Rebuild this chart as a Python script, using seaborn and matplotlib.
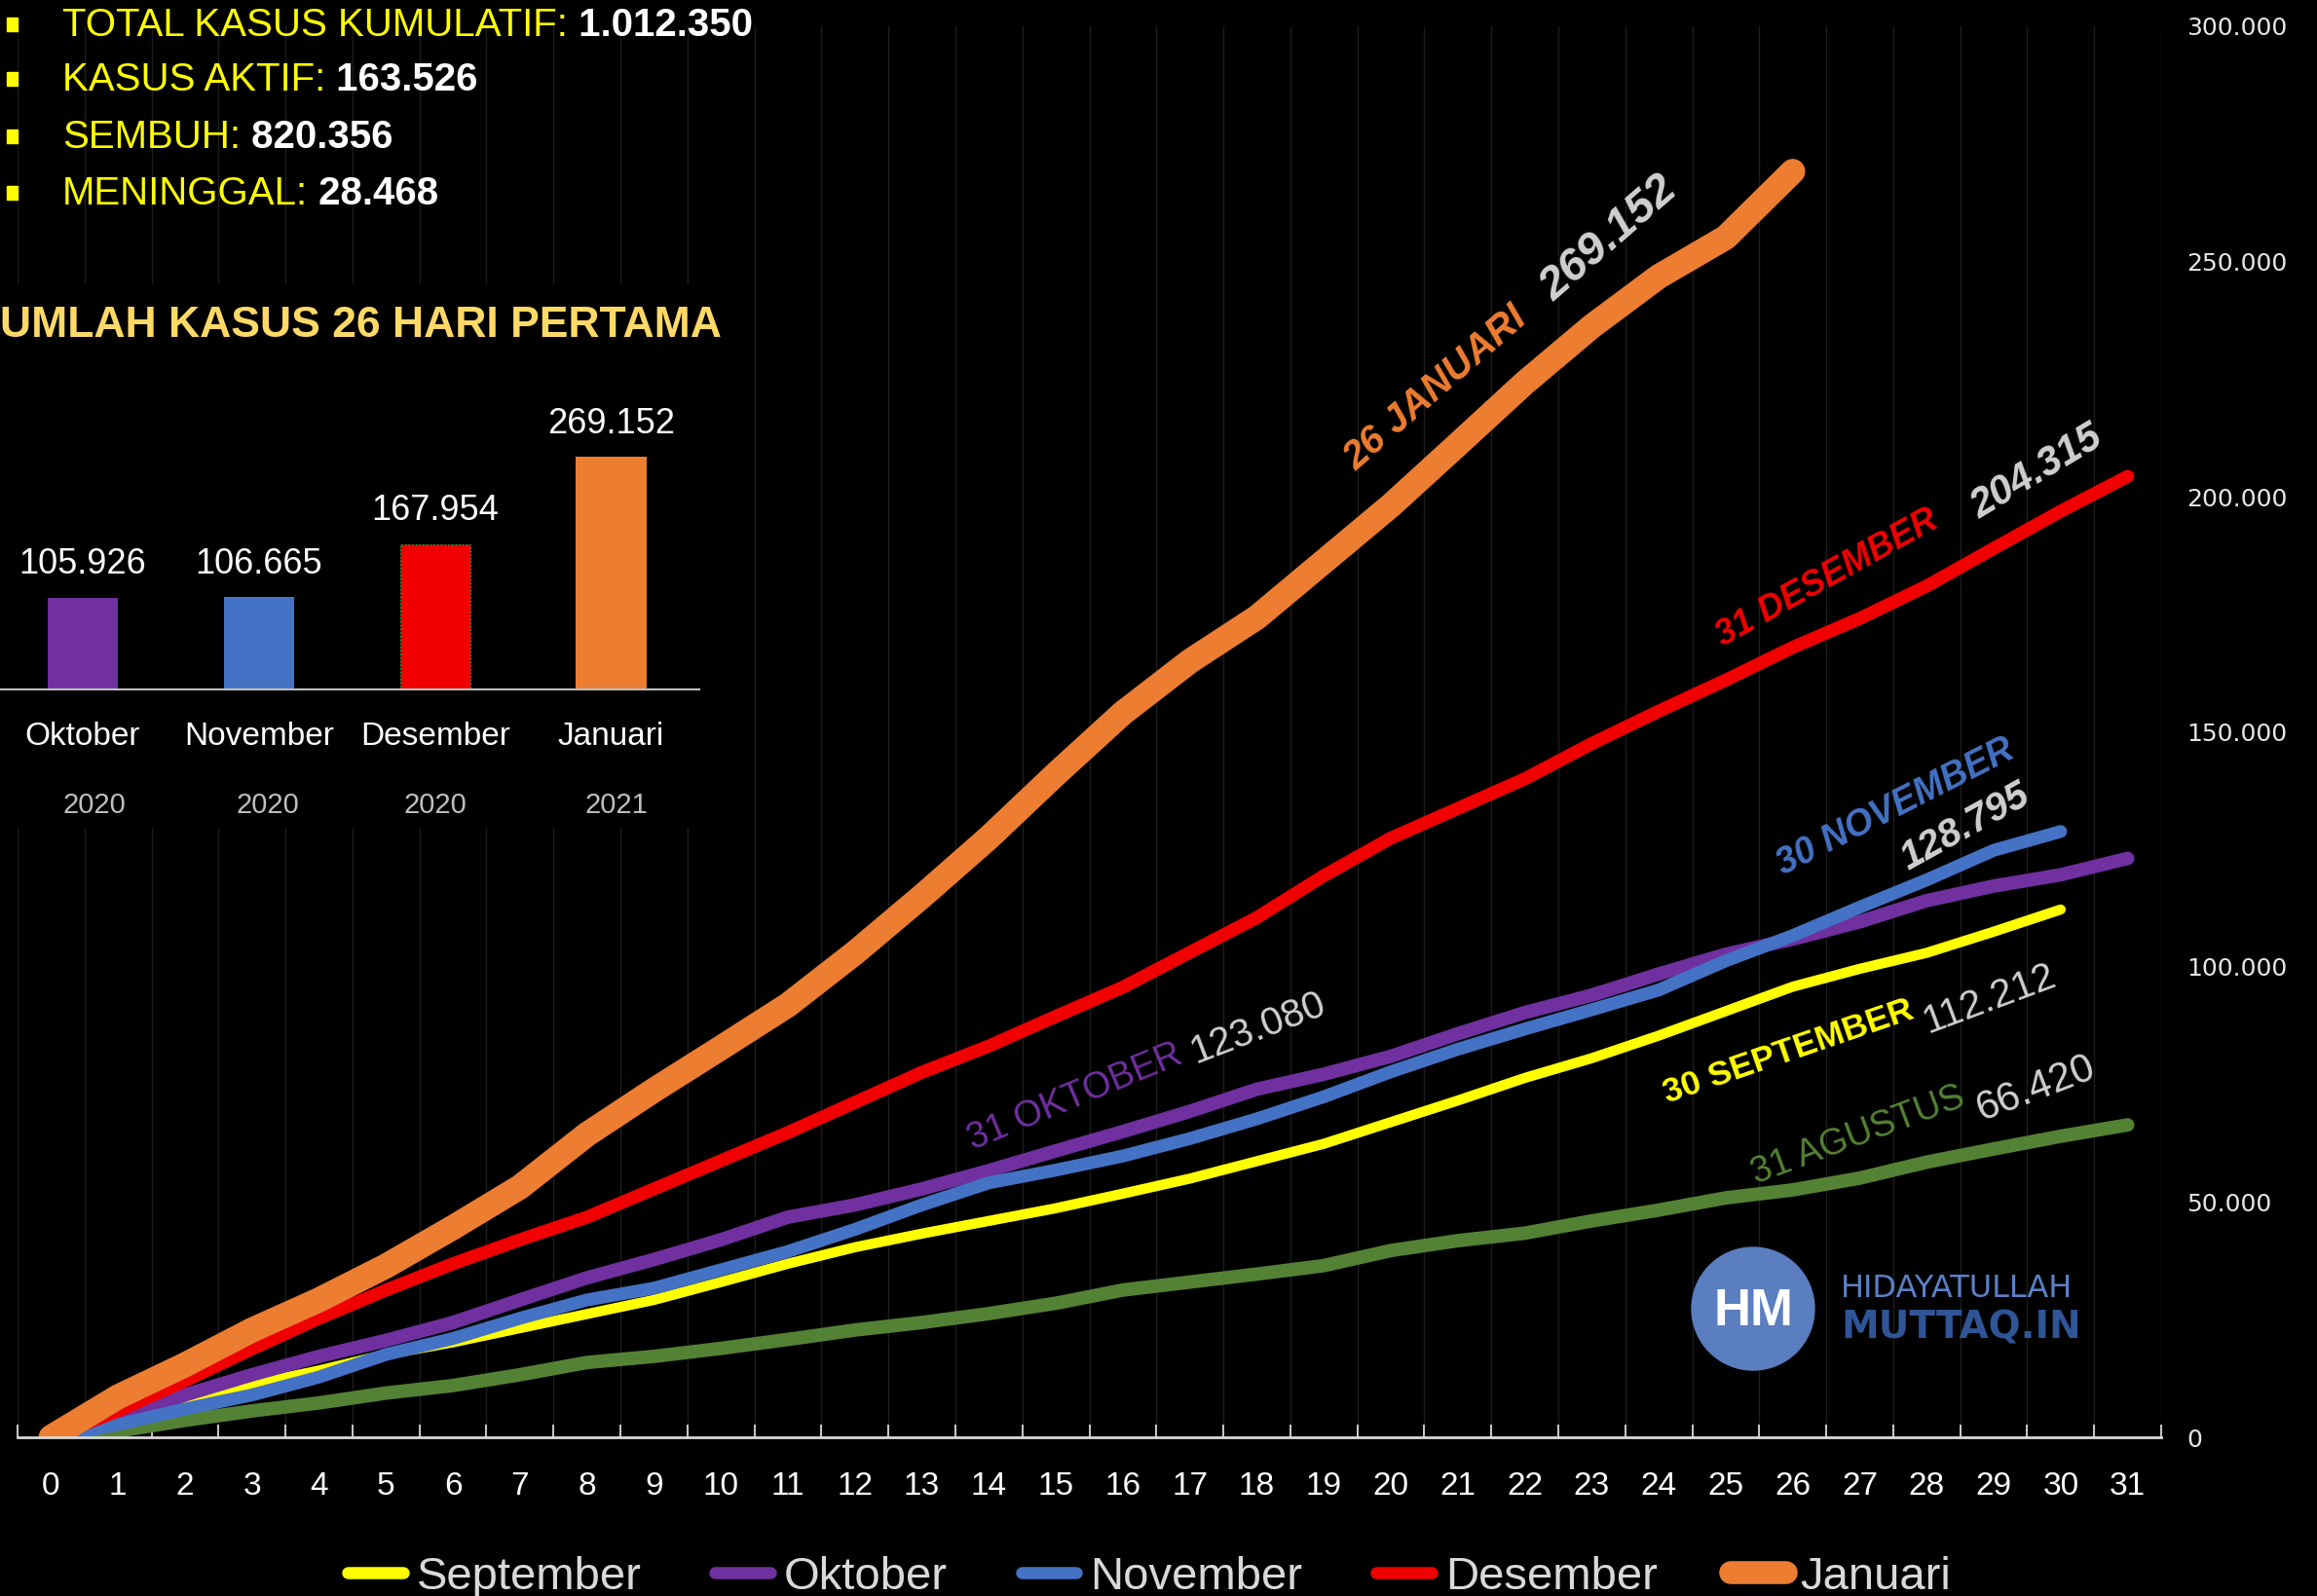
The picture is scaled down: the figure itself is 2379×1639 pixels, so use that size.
import matplotlib
matplotlib.use("Agg")
import matplotlib.pyplot as plt
from matplotlib.lines import Line2D
from matplotlib.patches import Circle, Rectangle
import numpy as np
import seaborn as sns

W, H = 2379, 1639

# cumulative new cases per day of month (day 0 = start)
days = list(range(32))
agustus = [0, 1300, 3600, 5600, 7300, 9400, 11000, 13300, 15900, 17200, 18900, 20800,
           22800, 24400, 26300, 28500, 31300, 33000, 34700, 36500, 39700, 41800, 43400,
           46000, 48300, 50900, 52600, 55100, 58500, 61300, 64000, 66420]
september = [0, 3400, 7700, 11200, 14200, 17600, 20200, 23200, 26200, 29200, 33000, 36900,
             40400, 43300, 46000, 48700, 51800, 55000, 58700, 62400, 67000, 71600, 76400,
             80600, 85400, 90600, 95800, 99600, 103000, 107500, 112212]
oktober = [0, 3800, 9000, 13300, 17200, 20600, 24400, 29200, 33900, 37800, 42000, 46800,
           49400, 52800, 56700, 60900, 65000, 69300, 74000, 77200, 81000, 85800, 90300,
           94000, 98500, 102700, 105926, 109600, 114100, 117200, 119600, 123080]
november = [0, 2700, 6000, 9000, 12800, 17600, 21000, 25300, 29200, 31700, 35600, 39500,
            44200, 49400, 54100, 56800, 59800, 63500, 67700, 72400, 77700, 82500, 86800,
            90900, 95100, 101300, 106665, 112700, 118500, 124800, 128795]
desember = [0, 5600, 12000, 18800, 25300, 31300, 36900, 42000, 46800, 52800, 58800, 64800,
            71200, 77600, 83200, 89500, 95700, 103100, 110500, 119400, 127400, 133700,
            140000, 147500, 154400, 161000, 167954, 174100, 181000, 189000, 196900, 204315]
januari = [0, 8600, 15400, 22800, 29200, 36400, 44600, 53200, 64400, 73800, 82800, 91900,
           103000, 115000, 127500, 141000, 154000, 165000, 174300, 186200, 198100, 211100,
           224200, 236200, 246800, 255100, 269152]

y_ticks = [0, 50000, 100000, 150000, 200000, 250000, 300000]
y_tick_labels = ["0", "50.000", "100.000", "150.000", "200.000", "250.000", "300.000"]

bar_months = ["Oktober", "November", "Desember", "Januari"]
bar_years = ["2020", "2020", "2020", "2021"]
bar_values = [105926, 106665, 167954, 269152]
bar_labels = ["105.926", "106.665", "167.954", "269.152"]

summary_labels = ["TOTAL KASUS KUMULATIF:", "KASUS AKTIF:", "SEMBUH:", "MENINGGAL:"]
summary_values = ["1.012.350", "163.526", "820.356", "28.468"]

ORANGE, RED, BLUE, PURPLE, YELLOW, GREEN = "#ED7D31", "#F00000", "#4472C4", "#7030A0", "#FFFF00", "#548235"
GREY = "#D0D0D0"

sns.set_theme(style="white")
plt.rcParams["font.family"] = ["Liberation Sans", "DejaVu Sans"]

fig = plt.figure(figsize=(W / 100, H / 100), dpi=100, facecolor="black")

# main line chart
ax = fig.add_axes([18 / W, 1 - 1476 / H, (2219 - 18) / W, (1476 - 27) / H], zorder=0)
ax.set_facecolor("black")

series = [
    ("Agustus", agustus, GREEN, 10),
    ("September", september, YELLOW, 7.5),
    ("Oktober", oktober, PURPLE, 10),
    ("November", november, BLUE, 9.5),
    ("Desember", desember, RED, 9.6),
    ("Januari", januari, ORANGE, 18.5),
]
for name, vals, col, lw in series:
    sns.lineplot(x=days[:len(vals)], y=vals, ax=ax, color=col, linewidth=lw,
                 solid_capstyle="round", solid_joinstyle="round")

ax.set_xlim(-0.5, 31.5)
ax.set_ylim(0, 300000)
ax.set_xticks(days)
ax.set_xticklabels([str(d) for d in days], fontsize=24, color="white")
ax.set_xticks(np.arange(-0.5, 32, 1), minor=True)
ax.tick_params(axis="x", which="major", length=0, pad=25)
ax.tick_params(axis="x", which="minor", direction="in", length=9.5, width=1.3,
               color="#D9D9D9", bottom=True)
ax.grid(False)
ax.grid(axis="x", which="minor", color="#1E1E1E", linewidth=1)
ax.set_axisbelow(True)
ax.yaxis.tick_right()
ax.set_yticks(y_ticks)
ax.set_yticklabels(y_tick_labels, family="DejaVu Sans", fontsize=18, color="#E6E6E6")
ax.tick_params(axis="y", length=0, pad=19)
for s in ["top", "left", "right"]:
    ax.spines[s].set_visible(False)
ax.spines["bottom"].set_color("#D9D9D9")
ax.spines["bottom"].set_linewidth(2)
ax.set_xlabel("")
ax.set_ylabel("")

# black box behind the inset
box = fig.add_axes([0, 1 - 850 / H, 745 / W, (850 - 292) / H], zorder=2)
box.set_facecolor("black")
box.set_xticks([])
box.set_yticks([])
for s in box.spines.values():
    s.set_visible(False)

# inset bar chart
bax = fig.add_axes([0, 1 - 708 / H, 718 / W, 266 / H], zorder=3)
bax.patch.set_alpha(0)
sns.barplot(x=bar_months, y=bar_values, hue=bar_months,
            palette=[PURPLE, BLUE, RED, ORANGE], width=0.4, saturation=1,
            ax=bax, legend=False, linewidth=0)
bax.patches[2].set_edgecolor("#00B050")
bax.patches[2].set_linestyle(":")
bax.patches[2].set_linewidth(1)
for cont, lab in zip(bax.containers, bar_labels):
    bax.bar_label(cont, labels=[lab], padding=12, color="white", fontsize=26)
bax.set_xlim(-0.47, 3.5)
bax.set_ylim(0, 300000)
bax.set_yticks([])
bax.set_xticks(range(4))
bax.set_xticklabels(bar_months, color="white", fontsize=24)
bax.tick_params(axis="x", length=0, pad=24)
for s in ["top", "left", "right"]:
    bax.spines[s].set_visible(False)
bax.spines["bottom"].set_color("#BFBFBF")
bax.spines["bottom"].set_linewidth(1.5)
bax.set_xlabel("")
bax.set_ylabel("")

# overlay in pixel coordinates for texts and logo
ov = fig.add_axes([0, 0, 1, 1], zorder=5)
ov.set_xlim(0, W)
ov.set_ylim(H, 0)
ov.axis("off")
ov.patch.set_alpha(0)

for y, lab, val in zip([26, 82, 141, 199], summary_labels, summary_values):
    ov.add_patch(Rectangle((7, y - 8), 11, 14, color=YELLOW))
    t = ov.text(64, y, lab, color=YELLOW, fontsize=29, va="center", ha="left")
    ov.annotate(" " + val, xy=(1, 0.5), xycoords=t, va="center", ha="left",
                color="white", fontsize=29, fontweight="bold")

ov.text(0, 334, "UMLAH KASUS 26 HARI PERTAMA", color="#FFD966", fontsize=32,
        fontweight="bold", va="center", ha="left")
for x, yr in zip([97, 275, 447, 633], bar_years):
    ov.text(x, 827, yr, color="#BFBFBF", fontsize=21, ha="center", va="center")

# text, colour, x, y, angle, size, weight, style
notes = [
    ("26 JANUARI", ORANGE, 1474, 399, 41, 29, "bold", "italic"),
    ("269.152", GREY, 1652, 245, 41, 34, "bold", "italic"),
    ("31 DESEMBER", RED, 1876, 594, 29, 26, "bold", "italic"),
    ("204.315", GREY, 2091, 485, 31, 30, "bold", "italic"),
    ("30 NOVEMBER", BLUE, 1946, 829, 27, 27, "bold", "italic"),
    ("128.795", GREY, 2018, 849, 29, 29, "bold", "italic"),
    ("31 OKTOBER", PURPLE, 1104, 1127, 22.5, 27, "medium", "normal"),
    ("123.080", GREY, 1292, 1056, 21, 29, "normal", "normal"),
    ("30 SEPTEMBER", YELLOW, 1836, 1080, 19, 25.5, "bold", "normal"),
    ("112.212", GREY, 2043, 1026, 20.5, 29, "normal", "normal"),
    ("31 AGUSTUS", GREEN, 1908, 1166, 20.5, 27, "medium", "normal"),
    ("66.420", GREY, 2091, 1118, 21, 30, "normal", "normal"),
]
for txt, col, x, y, ang, fs, fw, st in notes:
    ov.text(x, y, txt, color=col, fontsize=fs, fontweight=fw, fontstyle=st, rotation=ang,
            rotation_mode="anchor", ha="center", va="center")

# logo
ov.add_patch(Circle((1800, 1344), 63, color="#5A7EBF"))
ov.text(1800, 1347, "HM", color="white", fontsize=38, fontweight="bold", ha="center", va="center")
ov.text(1890, 1324, "HIDAYATULLAH", color="#5B80C6", fontsize=23, family="DejaVu Sans",
        ha="left", va="center")
ov.text(1890, 1363, "MUTTAQ.IN", color="#2F5597", fontsize=28, family="DejaVu Sans",
        fontweight="bold", ha="left", va="center")

# legend
leg_names = ["September", "Oktober", "November", "Desember", "Januari"]
leg_cols = [YELLOW, PURPLE, BLUE, RED, ORANGE]
leg_lw = [9, 9, 9, 9, 17]
handles = [Line2D([0], [0], color=c, lw=lw, solid_capstyle="round") for c, lw in zip(leg_cols, leg_lw)]
fig.legend(handles, leg_names, loc="center", bbox_to_anchor=(1180 / W, 1 - 1620 / H), ncol=5,
           frameon=False, fontsize=34, labelcolor="#D9D9D9", handlelength=1.2,
           handletextpad=0.3, columnspacing=1.6)

fig.savefig("out.png", dpi=100, facecolor="black")
